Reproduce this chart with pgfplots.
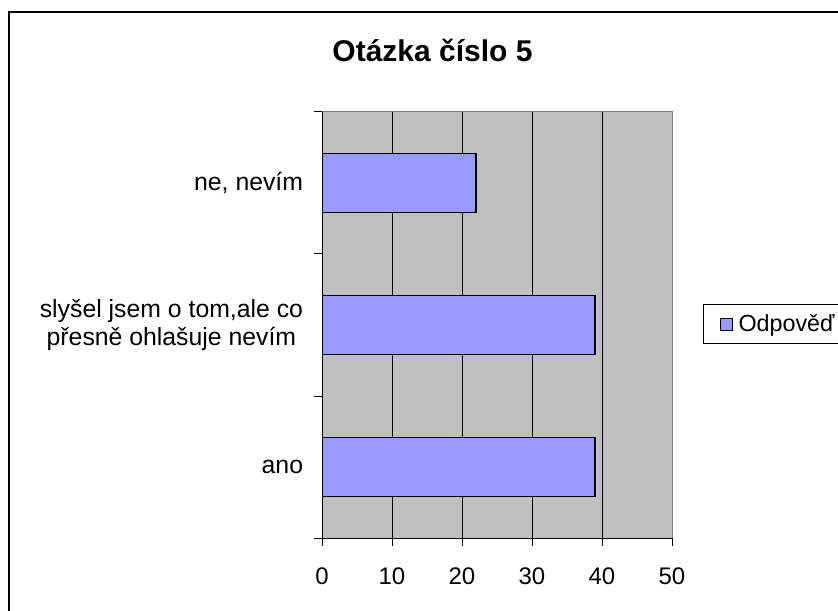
\documentclass[border=0pt]{standalone}
\usepackage{pgfplots}
\pgfplotsset{compat=1.18}
\usepackage{fontspec}
\setmainfont{Liberation Sans}
\definecolor{barcol}{HTML}{9999FF}
\definecolor{plotbg}{HTML}{C0C0C0}
\definecolor{framegray}{HTML}{808080}
\begin{document}
\begin{tikzpicture}[x=0.75pt,y=0.75pt]
\path[use as bounding box] (0,0) rectangle (838,610);
\clip (0,0) rectangle (838,610);
\fill[white] (0,0) rectangle (838,610);
\draw[line width=1.5pt] (8.5,-5) -- (8.5,597.5) -- (845,597.5);
\node[font=\bfseries\fontsize{22.5}{26}\selectfont, anchor=base] at (432.5,548) {Otázka číslo 5};
\begin{axis}[
  at={(241.5pt,54pt)}, anchor=south west,
  scale only axis, width=262.5pt, height=319.5pt,
  xbar, bar width=44.25pt,
  xmin=0, xmax=50, ymin=-0.5, ymax=2.5,
  axis background/.style={fill=plotbg},
  axis line style={draw=none},
  xtick={0,10,20,30,40,50},
  xtick pos=bottom, ytick pos=left,
  xmajorgrids,
  major grid style={black, line width=0.75pt},
  tick align=outside,
  major tick length=5.8pt,
  tick style={black, line width=0.75pt},
  ytick={-0.5,0.5,1.5,2.5},
  yticklabels={},
  extra y ticks={0,1,2},
  extra y tick labels={ano,{slyšel jsem o tom,ale co\\přesně ohlašuje nevím},{ne, nevím}},
  extra y tick style={major tick length=0pt, tick style={draw=none},
     yticklabel style={align=center, inner sep=0pt, anchor=east, xshift=-14pt,
       font=\fontsize{18.6}{21.5}\selectfont}},
  /pgf/number format/assume math mode=true,
  ticklabel style={font=\fontsize{18}{21}\selectfont},
  xticklabel style={inner sep=0pt, anchor=north, yshift=-16.5pt},
  legend style={at={(rel axis cs:1.0886,0.5023)}, anchor=west, draw=black, line width=0.75pt,
     fill=white, font=\fontsize{17.5}{21}\selectfont, inner xsep=12pt, inner ysep=5pt,
     column sep=2pt, nodes={inner sep=2.5pt}},
  legend image code/.code={\draw[fill=barcol, draw=black, line width=0.75pt] (0pt,-4.5pt) rectangle (9pt,4.5pt);},
  after end axis/.code={
    \draw[framegray, line width=0.75pt] (rel axis cs:0,1) -- (rel axis cs:1,1) -- (rel axis cs:1,0);
    \draw[black, line width=0.75pt] (rel axis cs:0,1) -- (rel axis cs:0,0) -- (rel axis cs:1,0);
  },
]
\addplot[xbar, fill=barcol, draw=black, line width=0.9pt] coordinates {(39,0) (39,1) (22,2)};
\addlegendentry{Odpověď}
\end{axis}
\end{tikzpicture}
\end{document}
